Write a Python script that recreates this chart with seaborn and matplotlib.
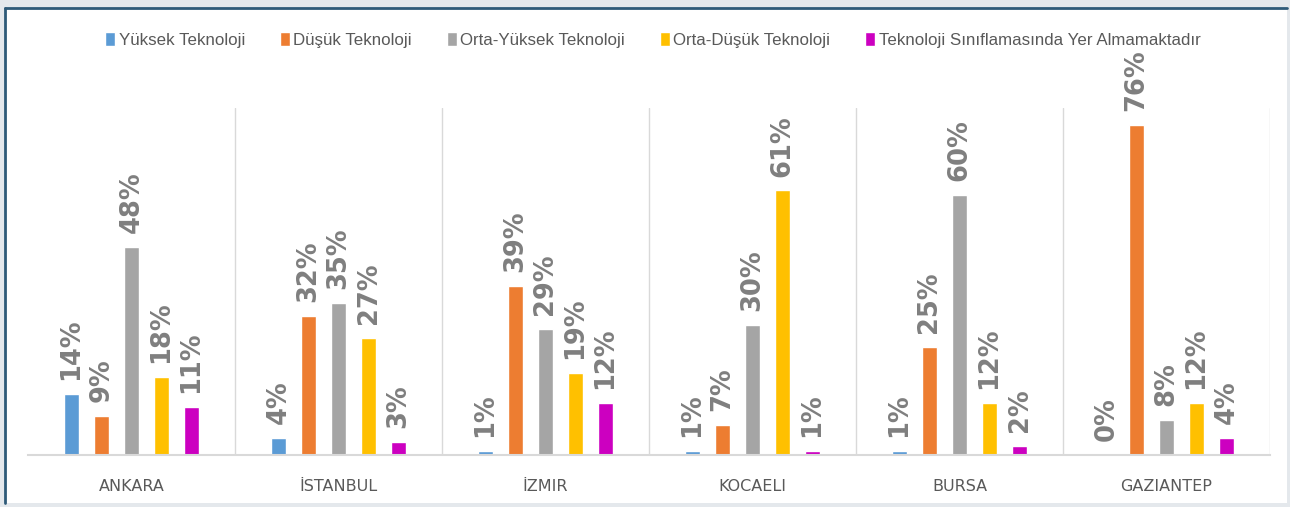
import pandas as pd
import matplotlib

matplotlib.use('Agg')
import matplotlib.pyplot as plt
from matplotlib.lines import Line2D
from matplotlib.patches import Rectangle
import seaborn as sns

sns.set_style('white')
plt.rcParams['font.family'] = ['DejaVu Sans']

cities = ['ANKARA', 'İSTANBUL', 'İZMIR', 'KOCAELI', 'BURSA', 'GAZIANTEP']
groups = ['Yüksek Teknoloji', 'Düşük Teknoloji', 'Orta-Yüksek Teknoloji',
          'Orta-Düşük Teknoloji', 'Teknoloji Sınıflamasında Yer Almamaktadır']
yuksek = [14, 4, 1, 1, 1, 0]
dusuk = [9, 32, 39, 7, 25, 76]
orta_yuksek = [48, 35, 29, 30, 60, 8]
orta_dusuk = [18, 27, 19, 61, 12, 12]
yer_almayan = [11, 3, 12, 1, 2, 4]
colors = ['#5B9BD5', '#ED7D31', '#A5A5A5', '#FFC000', '#CC00C0']

series = [yuksek, dusuk, orta_yuksek, orta_dusuk, yer_almayan]
rows = []
for g, vals in zip(groups, series):
    for c, v in zip(cities, vals):
        rows.append({'Şehir': c, 'Grup': g, 'Oran': v / 100})
df = pd.DataFrame(rows)

fig = plt.figure(figsize=(12.9, 5.07), dpi=100)
fig.patch.set_facecolor('#e4e8ec')
# white card with dark frame at top/left like the screenshot
fig.patches.append(Rectangle((5 / 1290, 4 / 507), 1282 / 1290, 495 / 507,
                             transform=fig.transFigure, facecolor='white',
                             edgecolor='none', zorder=-5))
fig.lines.append(Line2D([5 / 1290, 1287 / 1290], [499 / 507, 499 / 507],
                        transform=fig.transFigure, color='#2E5A78', lw=2, zorder=-4))
fig.lines.append(Line2D([5 / 1290, 5 / 1290], [4 / 507, 499 / 507],
                        transform=fig.transFigure, color='#2E5A78', lw=2, zorder=-4))

ax = fig.add_axes([28 / 1290, 52 / 507, 1242 / 1290, 347 / 507])
ax.set_zorder(2)
ax.set_facecolor('none')
sns.barplot(data=df, x='Şehir', y='Oran', hue='Grup', palette=colors,
            width=0.725, gap=0.5, ax=ax, saturation=1)

for cont, vals in zip(ax.containers, series):
    ax.bar_label(cont, labels=[f'{v}%' for v in vals], rotation=90,
                 padding=10, fontsize=18.5, fontweight='bold', color='#7F7F7F')

ax.set_ylim(0, 0.8)
ax.set_xlim(-0.5, len(cities) - 0.5)
for i in range(len(cities)):
    ax.axvline(i + 0.5, color='#D9D9D9', lw=1, zorder=0)

for s in ['top', 'left', 'right']:
    ax.spines[s].set_visible(False)
ax.spines['bottom'].set_color('#D9D9D9')
ax.spines['bottom'].set_linewidth(1.5)
ax.set_yticks([])
ax.set_xlabel('')
ax.set_ylabel('')
ax.tick_params(axis='x', length=0, pad=17, labelsize=11.5, labelcolor='#595959')

handles, labels = ax.get_legend_handles_labels()
ax.get_legend().remove()
leg = fig.legend(handles, labels, loc='center', bbox_to_anchor=(0.506, 0.921), ncol=5,
                 frameon=False, handlelength=0.6, handleheight=0.9, handletextpad=0.2,
                 columnspacing=2.05,
                 prop={'family': ['Liberation Sans', 'DejaVu Sans'], 'size': 12.2},
                 labelcolor='#595959')
leg.set_zorder(3)

plt.savefig('out.png', dpi=100)
